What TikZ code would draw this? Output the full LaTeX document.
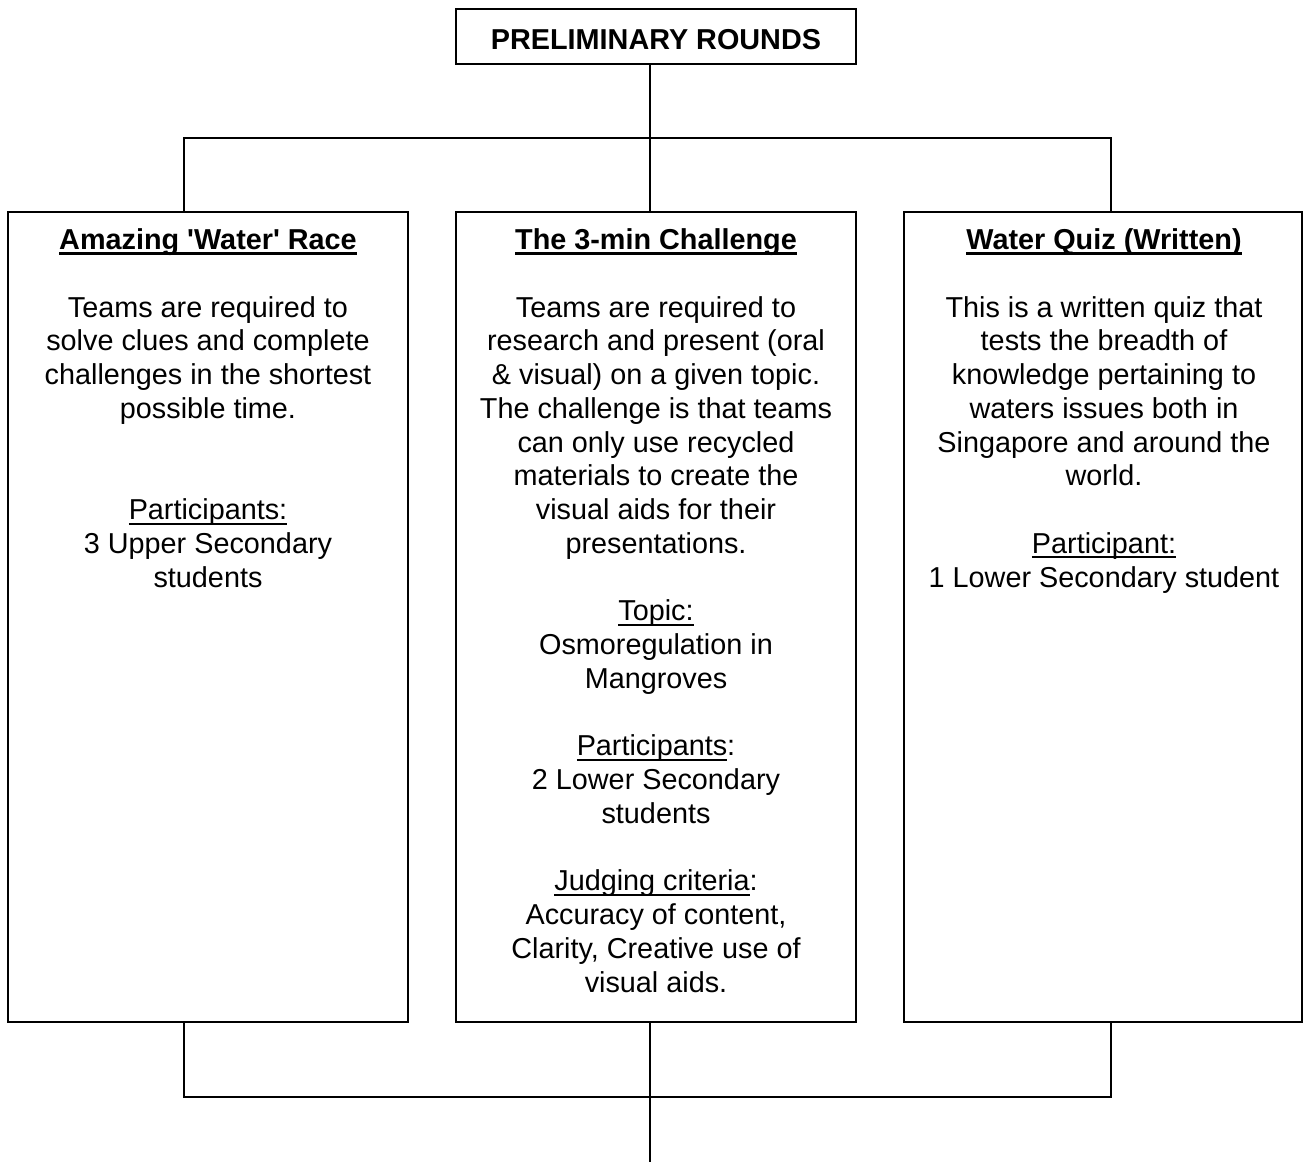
\documentclass[tikz,border=0pt]{standalone}
\usepackage{fontspec}
\setmainfont{Liberation Sans}[Ligatures=TeXOff]
\newsavebox\ulbox
\newcommand\myul[1]{\sbox\ulbox{#1}\rlap{\vrule height -3pt depth 5pt width \wd\ulbox}\usebox\ulbox}
\newcommand\mybul[1]{\sbox\ulbox{#1}\rlap{\vrule height -3pt depth 6pt width \wd\ulbox}\usebox\ulbox}
\begin{document}
\begin{tikzpicture}[x=1pt,y=-1pt,
  boxst/.style={draw=black,line width=2pt,rectangle,inner sep=0pt,minimum width=400pt},
  txt/.style={inner sep=0pt,anchor=base,font=\fontsize{28.8}{33.75}\selectfont},
  hd/.style={txt,font=\fontsize{28.8}{33.75}\selectfont\bfseries},
  conn/.style={line width=2pt}]
\useasboundingbox (0,0) rectangle (1304,1162);
% boxes
\node[boxst,minimum height=55pt] (top) at (656,36.5) {};
\node[boxst,minimum height=810pt] (boxL) at (208,617) {};
\node[boxst,minimum height=810pt] (boxM) at (656,617) {};
\node[boxst,minimum height=810pt,minimum width=398pt] (boxR) at (1103,617) {};
% junction coordinates
\coordinate (jt) at (650,138);
\coordinate (cL) at (184,138);
\coordinate (cR) at (1111,138);
\coordinate (jb) at (650,1097);
\coordinate (bL) at (184,1097);
\coordinate (bR) at (1111,1097);
\coordinate (endb) at (650,1162);
% connectors
\draw[conn] (top.south -| jt) -- (jt);
\draw[conn] (boxL.north -| cL) -- (cL) -- (cR) -- (boxR.north -| cR);
\draw[conn] (jt) -- (boxM.north -| jt);
\draw[conn] (boxL.south -| bL) -- (bL) -- (bR) -- (boxR.south -| bR);
\draw[conn] (boxM.south -| jb) -- (jb) -- (endb);
% title
\node[hd] (title) at (656,49) {PRELIMINARY ROUNDS};
% left box
\node[hd] (hL) at (208,249) {\mybul{Amazing 'Water' Race}};
\node[txt] (l1) at (208,317) {Teams are required to};
\node[txt] (l2) at (208,350.75) {solve clues and complete};
\node[txt] (l3) at (208,384.5) {challenges in the shortest};
\node[txt] (l4) at (208,418.25) {possible time.};
\node[txt] (l5) at (208,519.5) {\myul{Participants:}};
\node[txt] (l6) at (208,553.25) {3 Upper Secondary};
\node[txt] (l7) at (208,587) {students};
% middle box
\node[hd] (hM) at (656,249) {\mybul{The 3-min Challenge}};
\node[txt] (m1) at (656,317) {Teams are required to};
\node[txt] (m2) at (656,350.75) {research and present (oral};
\node[txt] (m3) at (656,384.5) {\& visual) on a given topic.};
\node[txt] (m4) at (656,418.25) {The challenge is that teams};
\node[txt] (m5) at (656,452) {can only use recycled};
\node[txt] (m6) at (656,485.75) {materials to create the};
\node[txt] (m7) at (656,519.5) {visual aids for their};
\node[txt] (m8) at (656,553.25) {presentations.};
\node[txt] (m9) at (656,620.75) {\myul{Topic:}};
\node[txt] (m10) at (656,654.5) {Osmoregulation in};
\node[txt] (m11) at (656,688.25) {Mangroves};
\node[txt] (m12) at (656,755.75) {\myul{Participants}:};
\node[txt] (m13) at (656,789.5) {2 Lower Secondary};
\node[txt] (m14) at (656,823.25) {students};
\node[txt] (m15) at (656,890.75) {\myul{Judging criteria}:};
\node[txt] (m16) at (656,924.5) {Accuracy of content,};
\node[txt] (m17) at (656,958.25) {Clarity, Creative use of};
\node[txt] (m18) at (656,992) {visual aids.};
% right box
\node[hd] (hR) at (1104,249) {\mybul{Water Quiz (Written)}};
\node[txt] (r1) at (1104,317) {This is a written quiz that};
\node[txt] (r2) at (1104,350.75) {tests the breadth of};
\node[txt] (r3) at (1104,384.5) {knowledge pertaining to};
\node[txt] (r4) at (1104,418.25) {waters issues both in};
\node[txt] (r5) at (1104,452) {Singapore and around the};
\node[txt] (r6) at (1104,485.75) {world.};
\node[txt] (r7) at (1104,553.25) {\myul{Participant:}};
\node[txt] (r8) at (1104,587) {1 Lower Secondary student};
\end{tikzpicture}
\end{document}
